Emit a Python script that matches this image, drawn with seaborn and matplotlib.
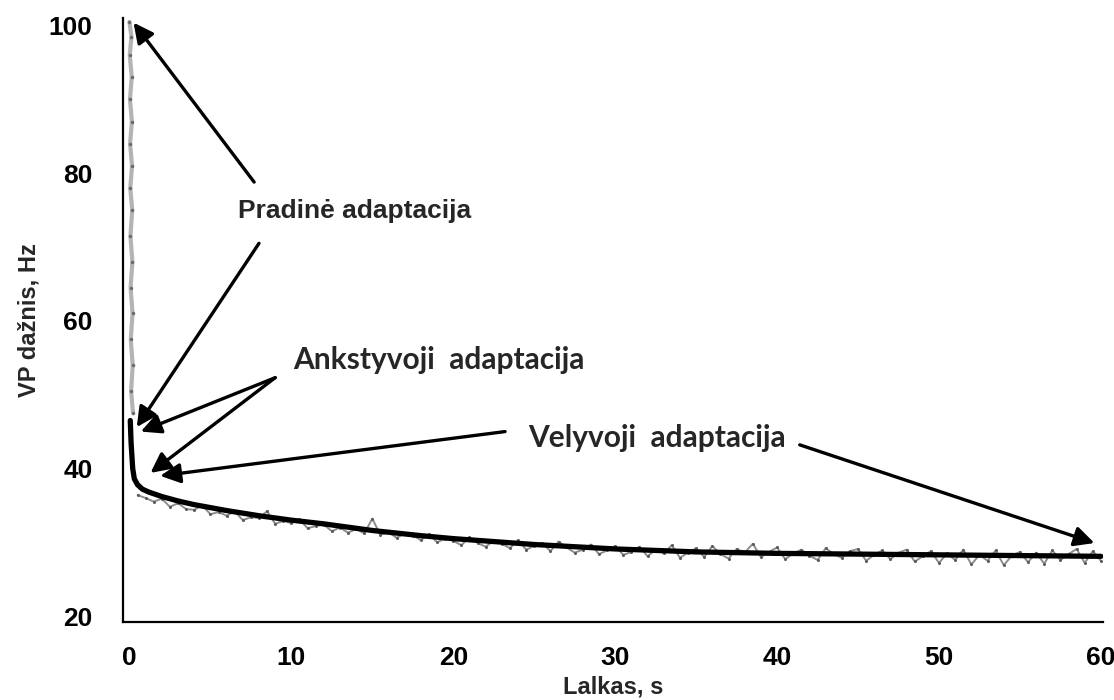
import numpy as np
import pandas as pd
import matplotlib
matplotlib.use("Agg")
import matplotlib.pyplot as plt
import seaborn as sns

# ---- data ----
# raw trace: initial adaptation (first fraction of a second)
init_t = [0.00, 0.12, 0.02, 0.14, 0.03, 0.15, 0.04, 0.16, 0.05, 0.17, 0.06, 0.18,
          0.07, 0.19, 0.08, 0.20, 0.10, 0.22]
init_f = [100.5, 98.5, 96.0, 93.0, 90.0, 87.0, 84.0, 81.0, 78.0, 75.0, 71.5, 68.0,
          64.5, 61.0, 57.5, 54.0, 50.5, 47.5]

# raw trace after the initial drop (0.5 s steps, 0.5 ... 60 s)
raw_t = np.arange(0.5, 60.01, 0.5)
raw_f = [36.4, 36.0, 35.5, 35.9, 34.8, 35.3, 34.5, 34.4, 35.0, 33.8,
         34.1, 33.6, 34.2, 33.0, 33.4, 33.3, 34.2, 32.5, 32.9, 32.6,
         33.1, 31.9, 32.2, 32.4, 31.5, 32.0, 31.3, 31.8, 31.2, 33.2,
         31.0, 31.4, 30.6, 31.2, 30.9, 30.3, 31.1, 30.0, 30.5, 30.2,
         29.6, 30.7, 29.9, 29.4, 30.2, 29.8, 29.2, 30.3, 29.0, 29.5,
         29.9, 28.8, 30.1, 29.3, 28.6, 29.0, 29.7, 28.4, 28.9, 29.5,
         28.3, 28.7, 29.4, 28.1, 29.0, 28.5, 29.6, 27.9, 28.6, 29.2,
         28.0, 29.5, 28.4, 27.8, 29.1, 28.6, 29.8, 28.0, 28.7, 29.3,
         27.7, 28.5, 29.0, 28.2, 27.6, 29.2, 28.4, 27.9, 28.8, 29.1,
         27.5, 28.3, 28.9, 27.7, 28.6, 29.0, 27.4, 28.1, 28.8, 27.2,
         28.5, 27.6, 29.0, 27.0, 28.3, 27.5, 28.9, 26.9, 28.2, 28.7,
         27.3, 28.6, 27.1, 28.9, 27.6, 28.4, 29.1, 27.2, 28.8, 27.5]

# fitted (black) curve
fit_t = [0.05, 0.10, 0.20, 0.30, 0.50, 0.80, 1.2, 2, 3, 4, 5, 6, 8, 10, 12, 15,
         18, 20, 25, 30, 35, 40, 45, 50, 55, 60]
fit_f = [46.5, 43.5, 40.0, 38.6, 37.8, 37.2, 36.8, 36.2, 35.6, 35.1, 34.7, 34.3,
         33.6, 33.0, 32.5, 31.6, 30.9, 30.5, 29.7, 29.1, 28.7, 28.5, 28.4, 28.3,
         28.2, 28.1]

x_ticks = [0, 10, 20, 30, 40, 50, 60]
y_ticks = [20, 40, 60, 80, 100]

labels = ["Pradinė adaptacija", "Ankstyvoji  adaptacija", "Velyvoji  adaptacija"]

# ---- plotting ----
sns.set_theme(style="white")
plt.rcParams["font.family"] = ["Liberation Sans", "DejaVu Sans"]

fig = plt.figure(figsize=(11.14, 7), dpi=100)
ax = fig.add_axes([0.1104, 0.1114, 0.8793, 0.8626])

df_init = pd.DataFrame({"t": init_t, "f": init_f})
df_raw = pd.DataFrame({"t": raw_t, "f": raw_f})
df_fit = pd.DataFrame({"t": fit_t, "f": fit_f})

sns.lineplot(data=df_init, x="t", y="f", ax=ax, estimator=None, sort=False,
             color="#b4b4b4", lw=3.0, marker="o", markersize=2.5,
             markeredgewidth=0, markerfacecolor="#6a6a6a")
sns.lineplot(data=df_raw, x="t", y="f", ax=ax, estimator=None, sort=False,
             color="#8c8c8c", lw=1.4, marker="o", markersize=2.2,
             markeredgewidth=0, markerfacecolor="#5a5a5a")
sns.lineplot(data=df_fit, x="t", y="f", ax=ax, estimator=None, sort=False,
             color="black", lw=3.8)

ax.set_xlim(-0.4, 60.1)
ax.set_ylim(19.2, 101)
ax.set_xticks(x_ticks)
ax.set_yticks(y_ticks)
for s in ["top", "right"]:
    ax.spines[s].set_visible(False)
for s in ["left", "bottom"]:
    ax.spines[s].set_color("black")
    ax.spines[s].set_linewidth(1.6)
ax.tick_params(axis="both", direction="out", length=12, width=1.6,
               colors="black", labelsize=19)
ax.tick_params(axis="y", pad=10)
ax.tick_params(axis="x", pad=5)
for lab in ax.get_xticklabels() + ax.get_yticklabels():
    lab.set_fontweight("bold")

ax.set_xlabel("Lalkas, s", fontsize=17, fontweight="bold", labelpad=4)
ax.set_ylabel("VP dažnis, Hz", fontsize=17, fontweight="bold", labelpad=6)

arrow = dict(arrowstyle="-|>", mutation_scale=30, lw=2.4, color="black",
             shrinkA=0, shrinkB=0)

# annotation texts
ax.text(6.7, 74.9, labels[0], fontsize=19, fontweight="bold", va="center",
        ha="left", family=["Liberation Sans", "DejaVu Sans"])
ax.text(10.1, 54.7, labels[1], fontsize=21.5, fontweight="bold", va="center",
        ha="left", family=["Lato", "DejaVu Sans"])
ax.text(24.6, 44.1, labels[2], fontsize=21.5, fontweight="bold", va="center",
        ha="left", family=["Lato", "DejaVu Sans"])

# arrows
ax.annotate("", xy=(0.25, 100.4), xytext=(7.7, 78.8), arrowprops=arrow)
ax.annotate("", xy=(0.45, 45.6), xytext=(8.0, 70.5), arrowprops=arrow)
ax.annotate("", xy=(0.7, 45.0), xytext=(9.0, 52.3), arrowprops=arrow)
ax.annotate("", xy=(1.3, 39.4), xytext=(9.0, 52.3), arrowprops=arrow)
ax.annotate("", xy=(1.9, 39.0), xytext=(23.2, 45.0), arrowprops=arrow)
ax.annotate("", xy=(59.6, 29.9), xytext=(41.4, 43.2), arrowprops=arrow)

fig.savefig("out.png", dpi=100, facecolor="white")
